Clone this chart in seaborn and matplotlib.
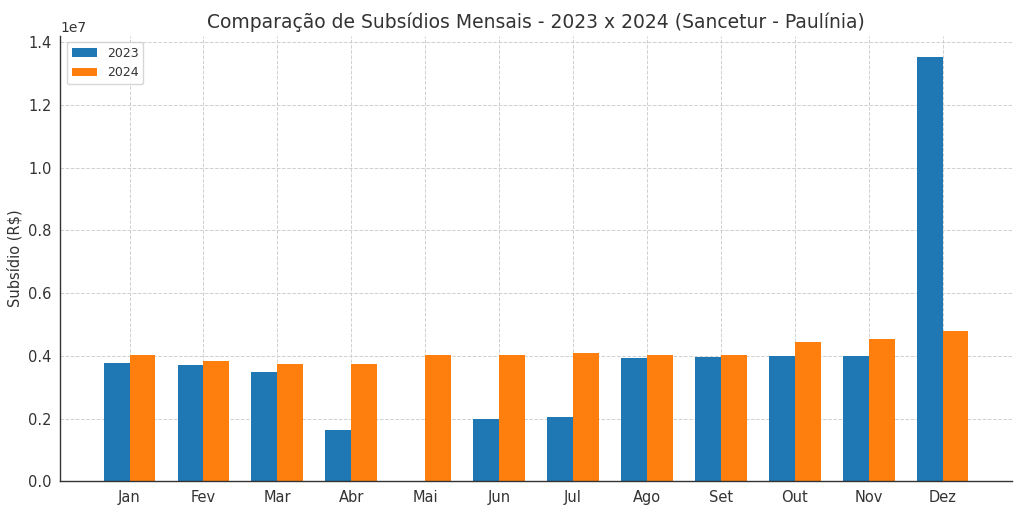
import pandas as pd
import matplotlib
matplotlib.use("Agg")
import matplotlib.pyplot as plt
import seaborn as sns

meses = ["Jan", "Fev", "Mar", "Abr", "Mai", "Jun", "Jul", "Ago", "Set", "Out", "Nov", "Dez"]
subsidio_2023 = [3.77e6, 3.69e6, 3.47e6, 1.65e6, 0.0, 2.00e6, 2.06e6, 3.93e6, 3.96e6, 3.99e6, 3.99e6, 13.52e6]
subsidio_2024 = [4.01e6, 3.83e6, 3.75e6, 3.74e6, 4.04e6, 4.01e6, 4.08e6, 4.01e6, 4.01e6, 4.44e6, 4.55e6, 4.78e6]
anos = ["2023", "2024"]
cores = ["#1f77b4", "#ff7f0e"]

df = pd.DataFrame({
    "Mês": meses * 2,
    "Subsídio": subsidio_2023 + subsidio_2024,
    "Ano": [anos[0]] * len(meses) + [anos[1]] * len(meses),
})

sns.set_style("whitegrid")
plt.rcParams["font.family"] = ["DejaVu Sans"]
plt.rcParams["text.color"] = "#333333"
plt.rcParams["axes.labelcolor"] = "#333333"
plt.rcParams["xtick.color"] = "#333333"
plt.rcParams["ytick.color"] = "#333333"

fig, ax = plt.subplots(figsize=(10.24, 5.12), dpi=100)
sns.barplot(data=df, x="Mês", y="Subsídio", hue="Ano", palette=cores,
            width=0.7, saturation=1, linewidth=0, edgecolor="none", ax=ax)

# margens como no matplotlib padrão
ax.set_xlim(-0.935, len(meses) - 1 + 0.935)

ax.grid(True, linestyle="--", color="#d0d0d0", linewidth=0.7)
for s in ["top", "right"]:
    ax.spines[s].set_visible(False)
for s in ["left", "bottom"]:
    ax.spines[s].set_color("#333333")
    ax.spines[s].set_linewidth(1.0)
ax.tick_params(axis="both", length=3, labelsize=10.5)
ax.set_xlabel("")
ax.set_ylabel("Subsídio (R\\$)", fontsize=10.5)
ax.set_title("Comparação de Subsídios Mensais - 2023 x 2024 (Sancetur - Paulínia)", fontsize=13.5)
ax.legend(loc="upper left", fontsize=9, title=None)

plt.subplots_adjust(left=0.059, right=0.988, top=0.93, bottom=0.06)
fig.savefig("out.png")
